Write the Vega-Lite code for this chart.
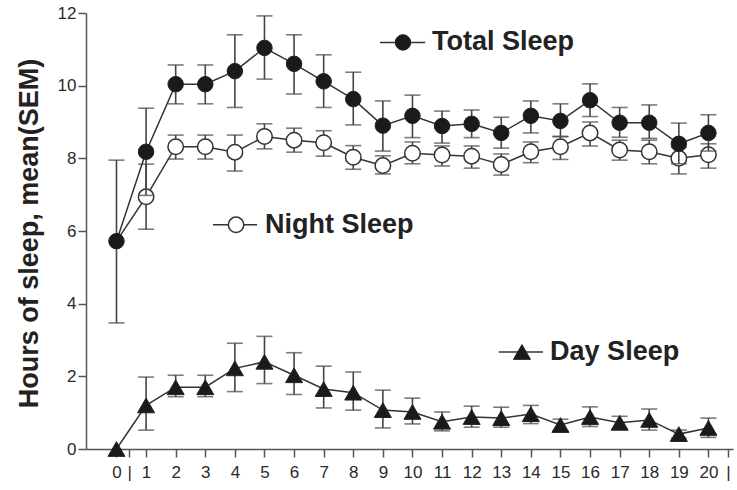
{
  "$schema": "https://vega.github.io/schema/vega-lite/v6.json",
  "width": 647,
  "height": 436,
  "autosize": {"type": "none"},
  "padding": {"left": 86, "top": 13, "right": 4, "bottom": 41},
  "background": "white",
  "config": {
    "view": {"stroke": null},
    "axis": {
      "labelFont": "Liberation Sans",
      "labelFontSize": 17,
      "labelColor": "#2a2a2a",
      "domainColor": "#555",
      "domainWidth": 1.5,
      "tickColor": "#555",
      "tickWidth": 1.5,
      "tickSize": 8,
      "grid": false
    }
  },
  "datasets": {
    "main": [
      {"series": "Total", "day": 0, "m": 5.72, "lo": 3.47, "hi": 7.95},
      {"series": "Total", "day": 1, "m": 8.18, "lo": 6.98, "hi": 9.38},
      {"series": "Total", "day": 2, "m": 10.04, "lo": 9.5, "hi": 10.57},
      {"series": "Total", "day": 3, "m": 10.04, "lo": 9.5, "hi": 10.57},
      {"series": "Total", "day": 4, "m": 10.4, "lo": 9.4, "hi": 11.4},
      {"series": "Total", "day": 5, "m": 11.04, "lo": 10.18, "hi": 11.92},
      {"series": "Total", "day": 6, "m": 10.6, "lo": 9.77, "hi": 11.4},
      {"series": "Total", "day": 7, "m": 10.12, "lo": 9.4, "hi": 10.85},
      {"series": "Total", "day": 8, "m": 9.63, "lo": 8.92, "hi": 10.37},
      {"series": "Total", "day": 9, "m": 8.9, "lo": 8.2, "hi": 9.58},
      {"series": "Total", "day": 10, "m": 9.17, "lo": 8.57, "hi": 9.74},
      {"series": "Total", "day": 11, "m": 8.89, "lo": 8.42, "hi": 9.3},
      {"series": "Total", "day": 12, "m": 8.95, "lo": 8.57, "hi": 9.33},
      {"series": "Total", "day": 13, "m": 8.7, "lo": 8.28, "hi": 9.13},
      {"series": "Total", "day": 14, "m": 9.17, "lo": 8.7, "hi": 9.58},
      {"series": "Total", "day": 15, "m": 9.03, "lo": 8.6, "hi": 9.5},
      {"series": "Total", "day": 16, "m": 9.6, "lo": 9.15, "hi": 10.05},
      {"series": "Total", "day": 17, "m": 8.98, "lo": 8.58, "hi": 9.4},
      {"series": "Total", "day": 18, "m": 8.98, "lo": 8.55, "hi": 9.47},
      {"series": "Total", "day": 19, "m": 8.4, "lo": 7.85, "hi": 8.97},
      {"series": "Total", "day": 20, "m": 8.7, "lo": 8.2, "hi": 9.2},
      {"series": "Night", "day": 0, "m": 5.72, "lo": null, "hi": null},
      {"series": "Night", "day": 1, "m": 6.94, "lo": 6.05, "hi": 7.84},
      {"series": "Night", "day": 2, "m": 8.32, "lo": 7.98, "hi": 8.64},
      {"series": "Night", "day": 3, "m": 8.32, "lo": 7.98, "hi": 8.64},
      {"series": "Night", "day": 4, "m": 8.17, "lo": 7.65, "hi": 8.64},
      {"series": "Night", "day": 5, "m": 8.6, "lo": 8.26, "hi": 8.95},
      {"series": "Night", "day": 6, "m": 8.5, "lo": 8.17, "hi": 8.83},
      {"series": "Night", "day": 7, "m": 8.43, "lo": 8.06, "hi": 8.76},
      {"series": "Night", "day": 8, "m": 8.03, "lo": 7.7, "hi": 8.35},
      {"series": "Night", "day": 9, "m": 7.8, "lo": 7.57, "hi": 8.07},
      {"series": "Night", "day": 10, "m": 8.14, "lo": 7.85, "hi": 8.45},
      {"series": "Night", "day": 11, "m": 8.09, "lo": 7.79, "hi": 8.34},
      {"series": "Night", "day": 12, "m": 8.06, "lo": 7.73, "hi": 8.34},
      {"series": "Night", "day": 13, "m": 7.83, "lo": 7.54, "hi": 8.12},
      {"series": "Night", "day": 14, "m": 8.18, "lo": 7.88, "hi": 8.45},
      {"series": "Night", "day": 15, "m": 8.32, "lo": 7.97, "hi": 8.6},
      {"series": "Night", "day": 16, "m": 8.7, "lo": 8.34, "hi": 9.0},
      {"series": "Night", "day": 17, "m": 8.23, "lo": 7.95, "hi": 8.5},
      {"series": "Night", "day": 18, "m": 8.18, "lo": 7.85, "hi": 8.5},
      {"series": "Night", "day": 19, "m": 8.0, "lo": 7.57, "hi": 8.3},
      {"series": "Night", "day": 20, "m": 8.1, "lo": 7.73, "hi": 8.4},
      {"series": "Day", "day": 0, "m": 0, "lo": null, "hi": null},
      {"series": "Day", "day": 1, "m": 1.2, "lo": 0.52, "hi": 1.98},
      {"series": "Day", "day": 2, "m": 1.7, "lo": 1.44, "hi": 2.03},
      {"series": "Day", "day": 3, "m": 1.7, "lo": 1.44, "hi": 2.03},
      {"series": "Day", "day": 4, "m": 2.22, "lo": 1.58, "hi": 2.91},
      {"series": "Day", "day": 5, "m": 2.4, "lo": 1.8, "hi": 3.1},
      {"series": "Day", "day": 6, "m": 2.03, "lo": 1.5, "hi": 2.65},
      {"series": "Day", "day": 7, "m": 1.65, "lo": 1.13, "hi": 2.28},
      {"series": "Day", "day": 8, "m": 1.55, "lo": 1.07, "hi": 2.12},
      {"series": "Day", "day": 9, "m": 1.07, "lo": 0.58, "hi": 1.62},
      {"series": "Day", "day": 10, "m": 1.02, "lo": 0.69, "hi": 1.4},
      {"series": "Day", "day": 11, "m": 0.75, "lo": 0.5, "hi": 1.02},
      {"series": "Day", "day": 12, "m": 0.88, "lo": 0.6, "hi": 1.18},
      {"series": "Day", "day": 13, "m": 0.85, "lo": 0.6, "hi": 1.15},
      {"series": "Day", "day": 14, "m": 0.96, "lo": 0.7, "hi": 1.2},
      {"series": "Day", "day": 15, "m": 0.66, "lo": 0.5, "hi": 0.82},
      {"series": "Day", "day": 16, "m": 0.88, "lo": 0.62, "hi": 1.16},
      {"series": "Day", "day": 17, "m": 0.72, "lo": 0.55, "hi": 0.9},
      {"series": "Day", "day": 18, "m": 0.8, "lo": 0.52, "hi": 1.1},
      {"series": "Day", "day": 19, "m": 0.41, "lo": 0.3, "hi": 0.52},
      {"series": "Day", "day": 20, "m": 0.58, "lo": 0.32, "hi": 0.85}
    ],
    "legLine": [
      {"series": "Total", "day": 8.905, "day2": 10.43, "m": 11.19},
      {"series": "Night", "day": 3.26, "day2": 4.75, "m": 6.17},
      {"series": "Day", "day": 12.92, "day2": 14.41, "m": 2.67}
    ],
    "legPoint": [
      {"series": "Total", "day": 9.68, "m": 11.19},
      {"series": "Night", "day": 4.04, "m": 6.17},
      {"series": "Day", "day": 13.7, "m": 2.67}
    ],
    "legText": [
      {"series": "Total", "day": 10.66, "m": 10.98, "label": "Total Sleep"},
      {"series": "Night", "day": 5.02, "m": 5.95, "label": "Night Sleep"},
      {"series": "Day", "day": 14.65, "m": 2.45, "label": "Day Sleep"}
    ]
  },
  "encoding": {
    "x": {
      "field": "day",
      "type": "quantitative",
      "scale": {"domain": [-1.03, 20.83], "nice": false, "zero": false},
      "axis": {
        "title": null,
        "values": [0, 0.43, 1, 2, 3, 4, 5, 6, 7, 8, 9, 10, 11, 12, 13, 14, 15, 16, 17, 18, 19, 20, 20.66],
        "labelExpr": "(datum.value == 0.43 || datum.value == 20.66) ? '|' : format(datum.value, 'd')",
        "labelPadding": 7,
        "labelOverlap": false,
        "labelFlush": false
      }
    },
    "y": {
      "field": "m",
      "type": "quantitative",
      "scale": {"domain": [0, 12], "nice": false, "zero": true},
      "axis": {
        "title": "Hours of sleep, mean(SEM)",
        "values": [0, 2, 4, 6, 8, 10, 12],
        "labelPadding": 2,
        "titleFont": "Liberation Sans",
        "titleFontSize": 27,
        "titleFontWeight": "bold",
        "titleColor": "#222",
        "titleAngle": -90,
        "titleX": -49,
        "titleY": 220,
        "titleAlign": "center",
        "titleBaseline": "alphabetic"
      }
    }
  },
  "layer": [
    {
      "data": {"name": "main"},
      "mark": {"type": "line", "color": "#333", "strokeWidth": 1.5},
      "encoding": {"detail": {"field": "series"}}
    },
    {
      "data": {"name": "main"},
      "transform": [{"filter": "datum.series == 'Night' && datum.lo != null"}],
      "mark": {
        "type": "errorbar",
        "ticks": {"size": 16, "thickness": 1.6, "color": "#444"},
        "rule": {"strokeWidth": 1.6, "color": "#444"}
      },
      "encoding": {
        "y": {"field": "lo", "type": "quantitative", "title": "Hours of sleep, mean(SEM)", "scale": {"domain": [0, 12], "nice": false, "zero": true}},
        "y2": {"field": "hi"}
      }
    },
    {
      "data": {"name": "main"},
      "transform": [{"filter": "datum.series == 'Night' && datum.day > 0"}],
      "mark": {"type": "point", "shape": "circle", "size": 240, "fill": "white", "stroke": "#333", "strokeWidth": 1.5, "opacity": 1}
    },
    {
      "data": {"name": "main"},
      "transform": [{"filter": "datum.series != 'Night' && datum.lo != null"}],
      "mark": {
        "type": "errorbar",
        "ticks": {"size": 16, "thickness": 1.6, "color": "#444"},
        "rule": {"strokeWidth": 1.6, "color": "#444"}
      },
      "encoding": {
        "y": {"field": "lo", "type": "quantitative", "title": "Hours of sleep, mean(SEM)", "scale": {"domain": [0, 12], "nice": false, "zero": true}},
        "y2": {"field": "hi"}
      }
    },
    {
      "data": {"name": "main"},
      "transform": [{"filter": "datum.series == 'Total'"}],
      "mark": {"type": "point", "shape": "circle", "size": 240, "fill": "#1a1a1a", "stroke": "#222", "strokeWidth": 1, "opacity": 1}
    },
    {
      "data": {"name": "main"},
      "transform": [{"filter": "datum.series == 'Day'"}],
      "mark": {"type": "point", "shape": "triangle-up", "size": 290, "fill": "#1a1a1a", "stroke": "#222", "strokeWidth": 1, "opacity": 1}
    },
    {
      "data": {"name": "legLine"},
      "mark": {"type": "rule", "color": "#333", "strokeWidth": 1.5},
      "encoding": {"x2": {"field": "day2"}}
    },
    {
      "data": {"name": "legPoint"},
      "transform": [{"filter": "datum.series == 'Night'"}],
      "mark": {"type": "point", "shape": "circle", "size": 240, "fill": "white", "stroke": "#333", "strokeWidth": 1.5, "opacity": 1}
    },
    {
      "data": {"name": "legPoint"},
      "transform": [{"filter": "datum.series == 'Total'"}],
      "mark": {"type": "point", "shape": "circle", "size": 240, "fill": "#1a1a1a", "stroke": "#222", "strokeWidth": 1, "opacity": 1}
    },
    {
      "data": {"name": "legPoint"},
      "transform": [{"filter": "datum.series == 'Day'"}],
      "mark": {"type": "point", "shape": "triangle-up", "size": 290, "fill": "#1a1a1a", "stroke": "#222", "strokeWidth": 1, "opacity": 1}
    },
    {
      "data": {"name": "legText"},
      "mark": {"type": "text", "align": "left", "baseline": "alphabetic", "font": "Liberation Sans", "fontSize": 27, "fontWeight": "bold", "color": "#222"},
      "encoding": {"text": {"field": "label"}}
    }
  ]
}
